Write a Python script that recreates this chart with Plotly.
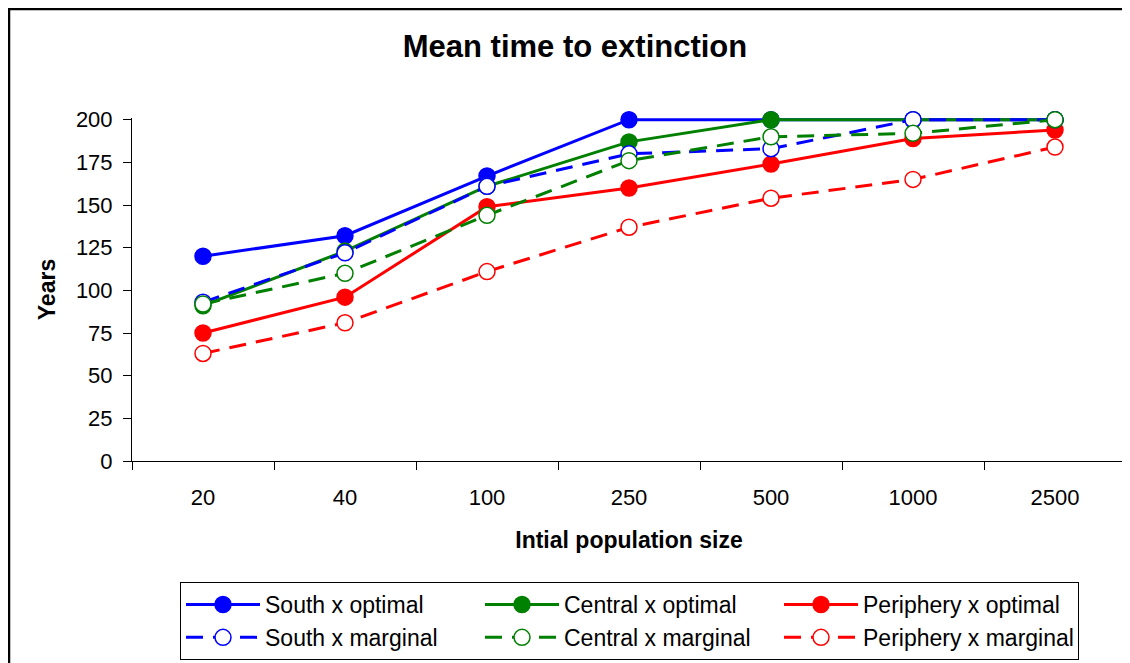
import plotly.graph_objects as go

categories = ["20", "40", "100", "250", "500", "1000", "2500"]

south_optimal = [120, 132, 167, 200, 200, 200, 200]
south_marginal = [93, 122, 161, 180, 183, 200, 200]
central_optimal = [91, 123, 161, 187, 200, 200, 200]
central_marginal = [92, 110, 144, 176, 190, 192, 200]
periphery_optimal = [75, 96, 149, 160, 174, 189, 194]
periphery_marginal = [63, 81, 111, 137, 154, 165, 184]

y_ticks = [0, 25, 50, 75, 100, 125, 150, 175, 200]

BLUE = "#0000FF"
GREEN = "#008000"
RED = "#FF0000"

series = [
    ("South x optimal", south_optimal, BLUE, "solid", True),
    ("Central x optimal", central_optimal, GREEN, "solid", True),
    ("Periphery x optimal", periphery_optimal, RED, "solid", True),
    ("South x marginal", south_marginal, BLUE, "17px,10px", False),
    ("Central x marginal", central_marginal, GREEN, "17px,10px", False),
    ("Periphery x marginal", periphery_marginal, RED, "17px,10px", False),
]

fig = go.Figure()
for name, vals, color, dash, filled in series:
    fig.add_trace(go.Scatter(
        x=categories, y=vals, name=name, mode="lines+markers",
        line=dict(color=color, width=3, dash=dash),
        marker=dict(symbol="circle", size=16,
                    color=color if filled else "white",
                    line=dict(color=color, width=1.5)),
        cliponaxis=False,
    ))

W, H = 1122, 655
L, R, T, B = 124, 4, 110, 202
PW, PH = W - L - R, H - T - B

fig.update_layout(
    width=W, height=H,
    margin=dict(l=L, r=R, t=T, b=B, autoexpand=False),
    paper_bgcolor="white", plot_bgcolor="white",
    font=dict(family="Liberation Sans, Arial, sans-serif", size=22, color="black"),
    title=dict(text="<b>Mean time to extinction</b>", x=567 / W, xref="container",
               xanchor="center", y=1 - 38 / H, yref="container", yanchor="middle",
               font=dict(size=31)),
    xaxis=dict(type="category", range=[-0.5, 6.5], tickson="boundaries",
               ticks="outside", ticklen=8, tickcolor="black",
               ticklabelstandoff=17,
               showline=True, linecolor="black", linewidth=1,
               showgrid=False, zeroline=False, tickfont=dict(size=22),
               title=dict(text="<b>Intial population size</b>", font=dict(size=23), standoff=22)),
    yaxis=dict(range=[0, 201], tickvals=y_ticks, ticks="outside", ticklen=8,
               tickcolor="black", showline=True, linecolor="black", linewidth=1,
               ticklabelstandoff=6,
               showgrid=False, zeroline=False, tickfont=dict(size=22),
               title=dict(text="<b>Years</b>", font=dict(size=23), standoff=13)),
    legend=dict(orientation="h", x=(172 - L) / PW, xanchor="left",
                y=(453 - 574) / PH, yanchor="top",
                entrywidth=210, entrywidthmode="pixels", itemwidth=74,
                bordercolor="black", borderwidth=1, bgcolor="white",
                font=dict(size=23), traceorder="normal"),
    showlegend=True,
    shapes=[dict(type="rect", xref="paper", yref="paper",
                 x0=(1 - L) / PW, x1=1.2, y0=-1.0, y1=1 + (T - 1) / PH,
                 line=dict(color="black", width=2.5), layer="below")],
)

fig.write_html("out.html")
